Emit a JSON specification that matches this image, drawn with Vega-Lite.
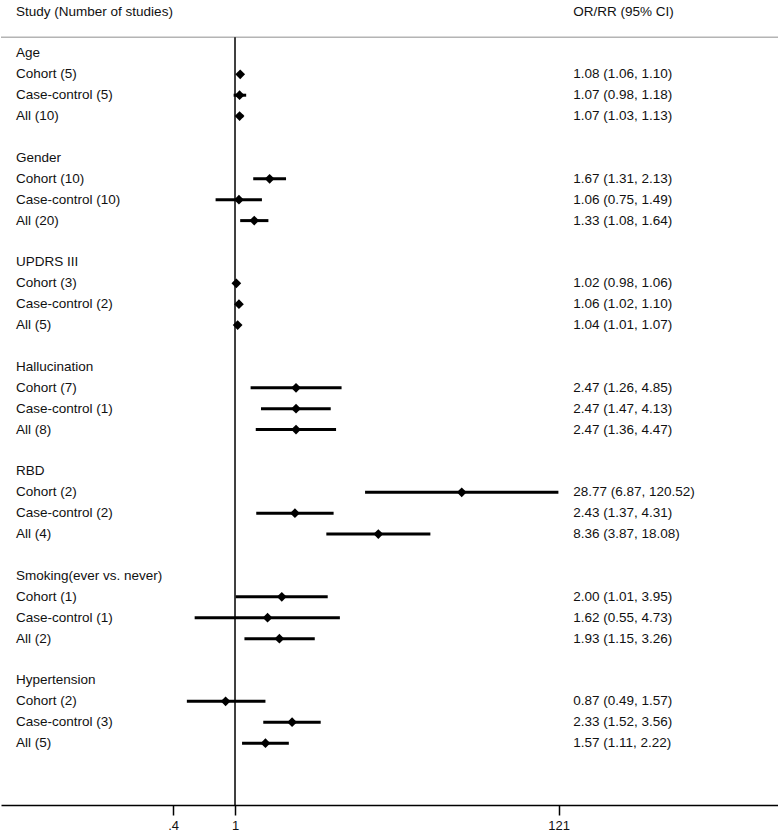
{
  "$schema": "https://vega.github.io/schema/vega-lite/v6.json",
  "width": 778,
  "height": 805,
  "padding": {"left": 0, "right": 0, "top": 0, "bottom": 0},
  "background": "white",
  "config": {
    "view": {"stroke": null},
    "font": "Liberation Sans",
    "text": {"font": "Liberation Sans", "fontSize": 13.5, "color": "#111111", "baseline": "middle", "align": "left"}
  },
  "datasets": {
    "studies": [
      {"row": 2, "label": "Age", "type": "group"},
      {"row": 3, "label": "Cohort (5)", "type": "study", "est": 1.08, "lo": 1.06, "hi": 1.10, "ci": "1.08 (1.06, 1.10)"},
      {"row": 4, "label": "Case-control (5)", "type": "study", "est": 1.07, "lo": 0.98, "hi": 1.18, "ci": "1.07 (0.98, 1.18)"},
      {"row": 5, "label": "All (10)", "type": "study", "est": 1.07, "lo": 1.03, "hi": 1.13, "ci": "1.07 (1.03, 1.13)"},
      {"row": 7, "label": "Gender", "type": "group"},
      {"row": 8, "label": "Cohort (10)", "type": "study", "est": 1.67, "lo": 1.31, "hi": 2.13, "ci": "1.67 (1.31, 2.13)"},
      {"row": 9, "label": "Case-control (10)", "type": "study", "est": 1.06, "lo": 0.75, "hi": 1.49, "ci": "1.06 (0.75, 1.49)"},
      {"row": 10, "label": "All (20)", "type": "study", "est": 1.33, "lo": 1.08, "hi": 1.64, "ci": "1.33 (1.08, 1.64)"},
      {"row": 12, "label": "UPDRS III", "type": "group"},
      {"row": 13, "label": "Cohort (3)", "type": "study", "est": 1.02, "lo": 0.98, "hi": 1.06, "ci": "1.02 (0.98, 1.06)"},
      {"row": 14, "label": "Case-control (2)", "type": "study", "est": 1.06, "lo": 1.02, "hi": 1.10, "ci": "1.06 (1.02, 1.10)"},
      {"row": 15, "label": "All (5)", "type": "study", "est": 1.04, "lo": 1.01, "hi": 1.07, "ci": "1.04 (1.01, 1.07)"},
      {"row": 17, "label": "Hallucination", "type": "group"},
      {"row": 18, "label": "Cohort (7)", "type": "study", "est": 2.47, "lo": 1.26, "hi": 4.85, "ci": "2.47 (1.26, 4.85)"},
      {"row": 19, "label": "Case-control (1)", "type": "study", "est": 2.47, "lo": 1.47, "hi": 4.13, "ci": "2.47 (1.47, 4.13)"},
      {"row": 20, "label": "All (8)", "type": "study", "est": 2.47, "lo": 1.36, "hi": 4.47, "ci": "2.47 (1.36, 4.47)"},
      {"row": 22, "label": "RBD", "type": "group"},
      {"row": 23, "label": "Cohort (2)", "type": "study", "est": 28.77, "lo": 6.87, "hi": 120.52, "ci": "28.77 (6.87, 120.52)"},
      {"row": 24, "label": "Case-control (2)", "type": "study", "est": 2.43, "lo": 1.37, "hi": 4.31, "ci": "2.43 (1.37, 4.31)"},
      {"row": 25, "label": "All (4)", "type": "study", "est": 8.36, "lo": 3.87, "hi": 18.08, "ci": "8.36 (3.87, 18.08)"},
      {"row": 27, "label": "Smoking(ever vs. never)", "type": "group"},
      {"row": 28, "label": "Cohort (1)", "type": "study", "est": 2.00, "lo": 1.01, "hi": 3.95, "ci": "2.00 (1.01, 3.95)"},
      {"row": 29, "label": "Case-control (1)", "type": "study", "est": 1.62, "lo": 0.55, "hi": 4.73, "ci": "1.62 (0.55, 4.73)"},
      {"row": 30, "label": "All (2)", "type": "study", "est": 1.93, "lo": 1.15, "hi": 3.26, "ci": "1.93 (1.15, 3.26)"},
      {"row": 32, "label": "Hypertension", "type": "group"},
      {"row": 33, "label": "Cohort (2)", "type": "study", "est": 0.87, "lo": 0.49, "hi": 1.57, "ci": "0.87 (0.49, 1.57)"},
      {"row": 34, "label": "Case-control (3)", "type": "study", "est": 2.33, "lo": 1.52, "hi": 3.56, "ci": "2.33 (1.52, 3.56)"},
      {"row": 35, "label": "All (5)", "type": "study", "est": 1.57, "lo": 1.11, "hi": 2.22, "ci": "1.57 (1.11, 2.22)"}
    ],
    "headers": [
      {"row": 0, "left": "Study (Number of studies)", "right": "OR/RR (95% CI)", "sep": 1.23, "null_or": 1, "bottom": 37.96}
    ]
  },
  "data": {"name": "studies"},
  "layer": [
    {
      "transform": [{"filter": "datum.type === 'study'"}],
      "mark": {"type": "rule", "color": "#000000", "strokeWidth": 3},
      "encoding": {
        "y": {
          "field": "row",
          "type": "quantitative",
          "scale": {"domain": [-0.555, 37.96], "reverse": true, "nice": false, "zero": false},
          "axis": null
        },
        "x": {
          "field": "lo",
          "type": "quantitative",
          "scale": {"type": "log", "domain": [0.0312, 3167], "nice": false, "zero": false},
          "axis": {
            "values": [0.4, 1, 121],
            "labelExpr": "datum.value == 0.4 ? '.4' : format(datum.value, 'd')",
            "title": null,
            "grid": false,
            "domainColor": "#000000",
            "domainWidth": 1.5,
            "tickColor": "#000000",
            "tickWidth": 1.5,
            "tickSize": 10,
            "labelPadding": 4,
            "labelFont": "Liberation Sans",
            "labelFontSize": 13,
            "labelColor": "#111111",
            "labelFlush": false,
            "labelOverlap": false
          }
        },
        "x2": {"field": "hi"}
      }
    },
    {
      "data": {"name": "headers"},
      "mark": {"type": "rule", "color": "#b4b4b4", "strokeWidth": 1.5},
      "encoding": {"y": {"field": "sep", "type": "quantitative"}}
    },
    {
      "data": {"name": "headers"},
      "mark": {"type": "rule", "color": "#000000", "strokeWidth": 1.5},
      "encoding": {
        "x": {"field": "null_or", "type": "quantitative"},
        "y": {"field": "sep", "type": "quantitative"},
        "y2": {"field": "bottom"}
      }
    },
    {
      "transform": [{"filter": "datum.type === 'study'"}],
      "mark": {"type": "point", "shape": "diamond", "filled": true, "color": "#000000", "opacity": 1, "size": 95},
      "encoding": {
        "x": {"field": "est", "type": "quantitative"},
        "y": {"field": "row", "type": "quantitative"}
      }
    },
    {
      "mark": {"type": "text"},
      "encoding": {
        "x": {"datum": 0.039, "type": "quantitative"},
        "y": {"field": "row", "type": "quantitative"},
        "text": {"field": "label"}
      }
    },
    {
      "transform": [{"filter": "datum.type === 'study'"}],
      "mark": {"type": "text"},
      "encoding": {
        "x": {"datum": 150, "type": "quantitative"},
        "y": {"field": "row", "type": "quantitative"},
        "text": {"field": "ci"}
      }
    },
    {
      "data": {"name": "headers"},
      "mark": {"type": "text"},
      "encoding": {
        "x": {"datum": 0.039, "type": "quantitative"},
        "y": {"field": "row", "type": "quantitative"},
        "text": {"field": "left"}
      }
    },
    {
      "data": {"name": "headers"},
      "mark": {"type": "text"},
      "encoding": {
        "x": {"datum": 150, "type": "quantitative"},
        "y": {"field": "row", "type": "quantitative"},
        "text": {"field": "right"}
      }
    }
  ]
}
